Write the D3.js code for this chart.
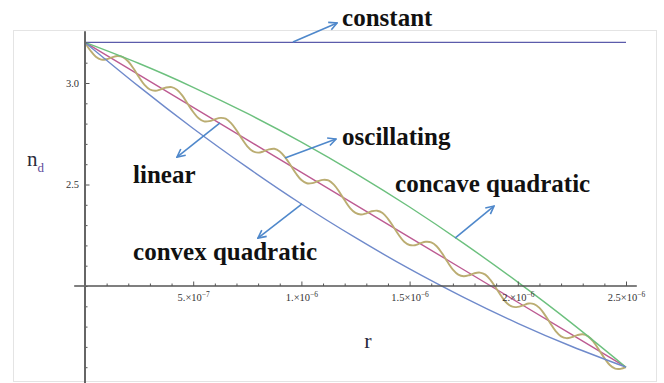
<!DOCTYPE html>
<html>
<head>
<meta charset="utf-8">
<script src="https://cdn.jsdelivr.net/npm/d3@7"></script>
<style>
  body { margin: 0; background: #fff; }
  svg { display: block; }
  svg text { font-family: "Liberation Serif", "Times New Roman", serif; }
</style>
</head>
<body>
<div id="chart"></div>
<script>
// Radius samples (m) for the smooth profiles
const rCoarse = [0, 2.5e-7, 5e-7, 7.5e-7, 1e-6, 1.25e-6, 1.5e-6, 1.75e-6, 2e-6, 2.25e-6, 2.5e-6];
const nConstant = [3.2, 3.2, 3.2, 3.2, 3.2, 3.2, 3.2, 3.2, 3.2, 3.2, 3.2];
const nLinear = [3.2, 3.04, 2.88, 2.72, 2.56, 2.4, 2.24, 2.08, 1.92, 1.76, 1.6];
const nConcave = [3.2, 3.096, 2.979, 2.850, 2.709, 2.555, 2.389, 2.210, 2.019, 1.816, 1.6];
const nConvex = [3.2, 2.982, 2.776, 2.584, 2.404, 2.238, 2.084, 1.944, 1.816, 1.702, 1.6];

// Oscillating profile, read every 2.5e-8 m
const rFine = d3.range(101).map(i => i * 2.5e-8);
const nOscillating = [
  3.200, 3.160, 3.129, 3.115, 3.117, 3.126, 3.133, 3.128, 3.106, 3.070,
  3.028, 2.991, 2.968, 2.962, 2.969, 2.978, 2.980, 2.967, 2.938, 2.897,
  2.857, 2.826, 2.811, 2.812, 2.821, 2.828, 2.824, 2.802, 2.767, 2.725,
  2.688, 2.664, 2.657, 2.663, 2.673, 2.676, 2.663, 2.634, 2.595, 2.554,
  2.522, 2.506, 2.507, 2.516, 2.523, 2.520, 2.499, 2.464, 2.422, 2.384,
  2.360, 2.352, 2.358, 2.368, 2.371, 2.360, 2.331, 2.292, 2.251, 2.218,
  2.202, 2.201, 2.211, 2.218, 2.215, 2.196, 2.161, 2.119, 2.081, 2.056,
  2.048, 2.053, 2.063, 2.066, 2.056, 2.028, 1.989, 1.948, 1.915, 1.898,
  1.897, 1.905, 1.914, 1.911, 1.892, 1.858, 1.817, 1.778, 1.752, 1.743,
  1.748, 1.758, 1.762, 1.752, 1.725, 1.686, 1.645, 1.611, 1.593, 1.592,
  1.600
];

// Ticks
const xMinorTicks = d3.range(26).map(i => i * 1e-7);
const xMajorTicks = [5e-7, 1e-6, 1.5e-6, 2e-6, 2.5e-6];
const xTickMantissa = ["5.", "1.", "1.5", "2.", "2.5"];
const xTickExponent = ["\u22127", "\u22126", "\u22126", "\u22126", "\u22126"];
const yMinorTicks = [1.6, 1.7, 1.8, 1.9, 2.0, 2.1, 2.2, 2.3, 2.4, 2.5, 2.6, 2.7, 2.8, 2.9, 3.0, 3.1, 3.2];
const yMajorTicks = [2.5, 3.0];
const yTickLabels = ["2.5", "3.0"];

// Annotation labels
const annoLabels = ["constant", "linear", "oscillating", "concave quadratic", "convex quadratic"];

const width = 664, height = 383;
const serif = "'Liberation Serif', 'Times New Roman', serif";

const x = d3.scaleLinear().domain([0, 2.5e-6]).range([85, 626]);
const y = d3.scaleLinear().domain([2, 3]).range([286, 83]);

const svg = d3.select("#chart").append("svg")
    .attr("width", width).attr("height", height)
    .style("background", "#fff");

// light frame around the plot image
svg.append("rect")
    .attr("x", 13.5).attr("y", 30.5).attr("width", 643).attr("height", 351)
    .attr("fill", "none").attr("stroke", "#e4e4e4");

// Curves
const curves = [
    { r: rCoarse, n: nConstant, color: "#5b5bab", w: 1.4, curve: d3.curveLinear },
    { r: rCoarse, n: nLinear, color: "#bd5b92", w: 1.4, curve: d3.curveLinear },
    { r: rFine, n: nOscillating, color: "#bbad72", w: 1.9, curve: d3.curveCatmullRom },
    { r: rCoarse, n: nConcave, color: "#6cc07e", w: 1.4, curve: d3.curveNatural },
    { r: rCoarse, n: nConvex, color: "#6f8acb", w: 1.4, curve: d3.curveNatural }
];

curves.forEach(c => {
    const line = d3.line().x(d => x(d[0])).y(d => y(d[1])).curve(c.curve);
    svg.append("path")
        .datum(c.r.map((r, i) => [r, c.n[i]]))
        .attr("fill", "none")
        .attr("stroke", c.color)
        .attr("stroke-width", c.w)
        .attr("d", line);
});

// Axes (Mathematica style: crossing at (0, 2), ticks inside)
const axisColor = "#555";

const xAxis = svg.append("g")
    .attr("transform", `translate(0, ${y(2)})`)
    .call(d3.axisBottom(x)
        .tickValues(xMinorTicks)
        .tickSizeInner(-2.5)
        .tickSizeOuter(0)
        .tickPadding(8)
        .tickFormat(() => ""));
xAxis.select(".domain").remove();
xAxis.attr("font-family", null);
xAxis.selectAll(".tick line")
    .attr("stroke", axisColor)
    .attr("y2", d => xMajorTicks.some(v => Math.abs(v - d) < 1e-12) ? -4.5 : -2.5);

xAxis.selectAll(".tick text")
    .style("font-family", serif)
    .style("font-size", "10.5px")
    .attr("fill", "#333")
    .each(function (d) {
        const i = xMajorTicks.findIndex(v => Math.abs(v - d) < 1e-12);
        if (i < 0) return;
        const t = d3.select(this);
        t.append("tspan").text(xTickMantissa[i] + "\u00d710");
        t.append("tspan").attr("dy", -4).style("font-size", "7.5px").text(xTickExponent[i]);
    });

svg.append("line")
    .attr("x1", x(-0.05e-6)).attr("x2", x(2.55e-6))
    .attr("y1", y(2)).attr("y2", y(2))
    .attr("stroke", axisColor).attr("stroke-width", 1.5);

const yAxis = svg.append("g")
    .attr("transform", `translate(${x(0)}, 0)`)
    .call(d3.axisLeft(y)
        .tickValues(yMinorTicks)
        .tickSizeInner(-2.5)
        .tickSizeOuter(0)
        .tickPadding(6)
        .tickFormat(d => {
            const i = yMajorTicks.findIndex(v => Math.abs(v - d) < 1e-9);
            return i < 0 ? "" : yTickLabels[i];
        }));
yAxis.select(".domain").remove();
yAxis.attr("font-family", null);
yAxis.selectAll(".tick line")
    .attr("stroke", axisColor)
    .attr("x2", d => yMajorTicks.some(v => Math.abs(v - d) < 1e-9) ? 4.5 : 2.5);
yAxis.selectAll(".tick text")
    .style("font-family", serif)
    .style("font-size", "10.5px")
    .attr("fill", "#333");

svg.append("line")
    .attr("x1", x(0)).attr("x2", x(0))
    .attr("y1", y(3.255)).attr("y2", height)
    .attr("stroke", "#666").attr("stroke-width", 2);

// Axis labels
const nLabel = svg.append("text")
    .attr("x", 27).attr("y", 166)
    .style("font-family", serif)
    .style("font-size", "21px")
    .attr("fill", "#2a2a3a");
nLabel.append("tspan").text("n");
nLabel.append("tspan").attr("dy", 6).style("font-size", "13px").attr("fill", "#5b4a9a").text("d");

svg.append("text")
    .attr("x", 368).attr("y", 348)
    .attr("text-anchor", "middle")
    .style("font-family", serif)
    .style("font-size", "22px")
    .attr("fill", "#2a2a3a")
    .text("r");

// Annotations: label position and arrow (from, to), in data units
const annoPlace = [
    { tx: 1.188e-6, ty: 3.281, fx: 0.961e-6, fy: 3.202, ex: 1.165e-6, ey: 3.296 },
    { tx: 0.222e-6, ty: 2.507, fx: 0.624e-6, fy: 2.803, ex: 0.425e-6, ey: 2.635 },
    { tx: 1.188e-6, ty: 2.695, fx: 0.924e-6, fy: 2.631, ex: 1.160e-6, ey: 2.724 },
    { tx: 1.433e-6, ty: 2.463, fx: 1.710e-6, fy: 2.236, ex: 1.890e-6, ey: 2.394 },
    { tx: 0.222e-6, ty: 2.128, fx: 1.003e-6, fy: 2.404, ex: 0.799e-6, ey: 2.236 }
];

const arrowColor = "#4f88cb";
svg.append("defs").append("marker")
    .attr("id", "arrow")
    .attr("viewBox", "0 0 10 10")
    .attr("refX", 9).attr("refY", 5)
    .attr("markerWidth", 10).attr("markerHeight", 10)
    .attr("markerUnits", "userSpaceOnUse")
    .attr("orient", "auto")
    .append("path")
    .attr("d", "M1,1 L9,5 L1,9")
    .attr("fill", "none")
    .attr("stroke", arrowColor)
    .attr("stroke-width", 1.6);

annoPlace.forEach((a, i) => {
    svg.append("line")
        .attr("x1", x(a.fx)).attr("y1", y(a.fy))
        .attr("x2", x(a.ex)).attr("y2", y(a.ey))
        .attr("stroke", arrowColor)
        .attr("stroke-width", 1.6)
        .attr("marker-end", "url(#arrow)");
    svg.append("text")
        .attr("x", x(a.tx)).attr("y", y(a.ty))
        .style("font-family", serif)
        .style("font-weight", "bold")
        .style("font-size", "25px")
        .attr("fill", "#111")
        .text(annoLabels[i]);
});
</script>
</body>
</html>
